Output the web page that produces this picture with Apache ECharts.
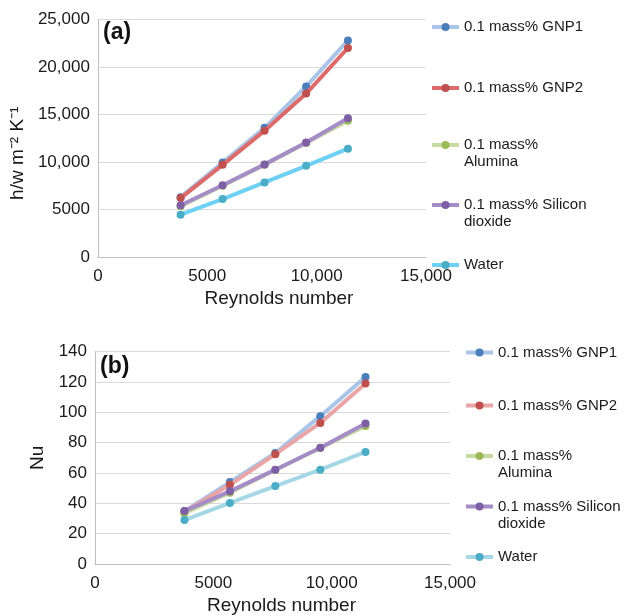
<!DOCTYPE html>
<html>
<head>
<meta charset="utf-8">
<script src="https://cdn.jsdelivr.net/npm/echarts@6/dist/echarts.min.js"></script>
<style>
html,body{margin:0;padding:0;background:#fff;}
#chart{width:625px;height:616px;}
</style>
</head>
<body>
<div id="chart"></div>
<script>
// ---- data ----
const reynolds = [3780, 5700, 7620, 9520, 11430];
const seriesNames = ['0.1 mass% GNP1', '0.1 mass% GNP2', '0.1 mass% Alumina', '0.1 mass% Silicon dioxide', 'Water'];
const legendLabels = ['0.1 mass% GNP1', '0.1 mass% GNP2', '\n0.1 mass%\nAlumina', '\n0.1 mass% Silicon\ndioxide', 'Water'];
// (a) heat transfer coefficient h, W m^-2 K^-1
const hGNP1 = [6300, 9950, 13600, 17950, 22800];
const hGNP2 = [6200, 9700, 13300, 17200, 22000];
const hAlumina = [5350, 7500, 9700, 12000, 14350];
const hSiO2 = [5450, 7550, 9750, 12050, 14600];
const hWater = [4450, 6100, 7850, 9600, 11400];
// (b) Nusselt number
const nuGNP1 = [34.9, 54.0, 73.2, 97.5, 123.3];
const nuGNP2 = [34.5, 52.2, 72.4, 93.0, 119.0];
const nuAlumina = [33.5, 47.0, 62.0, 76.5, 91.0];
const nuSiO2 = [34.9, 47.9, 62.2, 76.7, 92.7];
const nuWater = [29.0, 40.3, 51.4, 62.2, 73.9];
// tick settings
const xTicks = {min: 0, max: 15000, interval: 5000};
const yTicksA = {min: 0, max: 25000, interval: 5000};
const yTicksB = {min: 0, max: 140, interval: 20};

const markerColors = ['#4a7ebb', '#c0504d', '#9bbb59', '#7f5fa5', '#4bacc6'];
const lineColorsA = ['#a9c4e6', '#dd6b6b', '#c5dba0', '#a58cc6', '#6dd0f4'];
const lineColorsB = ['#a9c4e6', '#e9a5a5', '#c5dba0', '#a58cc6', '#a6d7e6'];

const FONT = '"Liberation Sans", Arial, Helvetica, sans-serif';
function fmt(v){
  const s = String(Math.round(v));
  return v >= 10000 ? s.replace(/\B(?=(\d{3})+(?!\d))/g, ',') : s;
}
function pairs(ys){ return reynolds.map((x, i) => [x, ys[i]]); }

const dataA = [hGNP1, hGNP2, hAlumina, hSiO2, hWater];
const dataB = [nuGNP1, nuGNP2, nuAlumina, nuSiO2, nuWater];

const series = [];
dataA.forEach((d, i) => series.push({
  type: 'line', name: seriesNames[i] + ' (a)', xAxisIndex: 0, yAxisIndex: 0,
  data: pairs(d), symbol: 'circle', symbolSize: 8, showSymbol: true,
  lineStyle: {color: lineColorsA[i], width: 4}, itemStyle: {color: markerColors[i]},
  emphasis: {disabled: true}, animation: false, z: 2 + i
}));
dataB.forEach((d, i) => series.push({
  type: 'line', name: seriesNames[i] + ' (b)', xAxisIndex: 1, yAxisIndex: 1,
  data: pairs(d), symbol: 'circle', symbolSize: 8, showSymbol: true,
  lineStyle: {color: lineColorsB[i], width: 4}, itemStyle: {color: markerColors[i]},
  emphasis: {disabled: true}, animation: false, z: 2 + i
}));

const legendTopsA = [18.5, 79.5, 119.5, 179.5, 256.5];
const legendTopsB = [344, 397, 430.5, 481, 548.5];
const legends = [];
seriesNames.forEach((n, i) => {
  legends.push({
    left: 430, top: legendTopsA[i], padding: 0, itemWidth: 27, itemHeight: 10,
    data: [n + ' (a)'], selectedMode: false,
    lineStyle: {width: 4},
    formatter: () => legendLabels[i],
    textStyle: {fontFamily: FONT, fontSize: 15, color: '#1a1a1a', lineHeight: 17}
  });
  legends.push({
    left: 464, top: legendTopsB[i], padding: 0, itemWidth: 27, itemHeight: 10,
    data: [n + ' (b)'], selectedMode: false,
    lineStyle: {width: 4},
    formatter: () => legendLabels[i],
    textStyle: {fontFamily: FONT, fontSize: 15, color: '#1a1a1a', lineHeight: 17}
  });
});

function xAxis(gridIndex, padLeft){
  return {
    type: 'value', gridIndex, min: xTicks.min, max: xTicks.max, interval: xTicks.interval,
    name: 'Reynolds number', nameLocation: 'middle', nameGap: 32,
    nameTextStyle: {fontFamily: FONT, fontSize: 19, color: '#1a1a1a', padding: [0, 0, 0, padLeft]},
    axisLine: {show: true, lineStyle: {color: '#bfbfbf', width: 1}},
    axisTick: {show: false},
    splitLine: {show: false},
    axisLabel: {fontFamily: FONT, fontSize: 17, color: '#1a1a1a', margin: 11, formatter: fmt}
  };
}
function yAxis(gridIndex, t, name, nameGap, pad){
  return {
    type: 'value', gridIndex, min: t.min, max: t.max, interval: t.interval,
    name, nameLocation: 'middle', nameGap,
    nameTextStyle: {fontFamily: FONT, fontSize: 19, color: '#1a1a1a', padding: pad},
    axisLine: {show: true, lineStyle: {color: '#bfbfbf', width: 1}},
    axisTick: {show: false},
    splitLine: {show: true, lineStyle: {color: '#d9d9d9', width: 1}},
    axisLabel: {fontFamily: FONT, fontSize: 17, color: '#1a1a1a', margin: 8, formatter: fmt}
  };
}

const option = {
  backgroundColor: '#ffffff',
  animation: false,
  grid: [
    {left: 96, right: 199, top: 19.5, height: 237.5},
    {left: 95, right: 175, top: 351.7, height: 215.3}
  ],
  xAxis: [xAxis(0, 34), xAxis(1, 18)],
  yAxis: [
    yAxis(0, yTicksA, 'h/w m\u207B\u00B2 K\u207B\u00B9', 66, [0, 30, 0, 0]),
    yAxis(1, yTicksB, 'Nu', 41, [0, 0, 0, 0])
  ],
  legend: legends,
  graphic: [
    {type: 'text', left: 103, top: 21, style: {text: '(a)', font: 'bold 23px ' + FONT, fill: '#111'}},
    {type: 'text', left: 100, top: 355, style: {text: '(b)', font: 'bold 23px ' + FONT, fill: '#111'}}
  ],
  series
};
const chart = echarts.init(document.getElementById('chart'), null, {renderer: 'canvas'});
chart.setOption(option);
</script>
</body>
</html>
